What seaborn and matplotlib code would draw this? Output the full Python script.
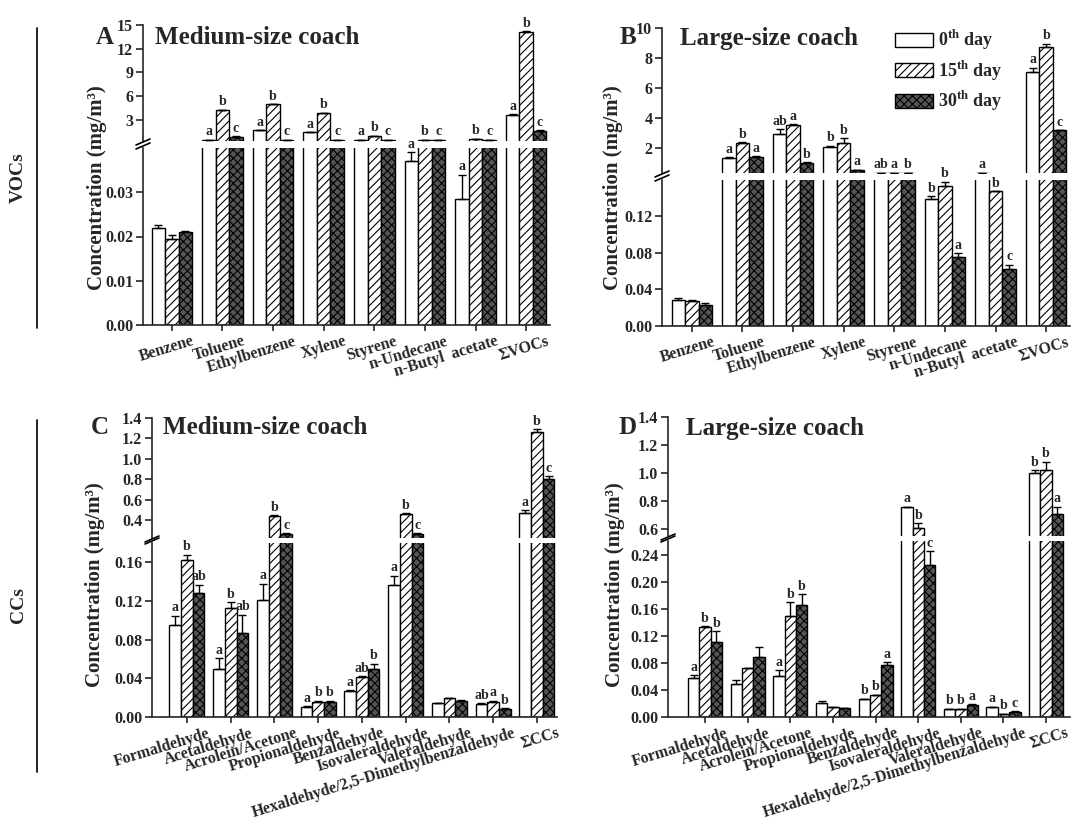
import numpy as np
import pandas as pd
import seaborn as sns
import matplotlib.pyplot as plt
from matplotlib.patches import Patch
from matplotlib.lines import Line2D
from matplotlib.transforms import ScaledTranslation
from matplotlib.ticker import FormatStrFormatter

# ---- data (mg/m3) ----
days = ['0th day', '15th day', '30th day']

voc_cats = ['Benzene', 'Toluene', 'Ethylbenzene', 'Xylene', 'Styrene',
            'n-Undecane', 'n-Butyl  acetate', 'ΣVOCs']
cc_cats = ['Formaldehyde', 'Acetaldehyde', 'Acrolein/Acetone', 'Propionaldehyde',
           'Benzaldehyde', 'Isovaleraldehyde', 'Valeraldehyde',
           'Hexaldehyde/2,5-Dimethylbenzaldehyde', 'ΣCCs']

# A: medium-size coach, VOCs
a_day0 = [0.022, 0.45, 1.65, 1.4, 0.45, 0.037, 0.0285, 3.6]
a_day15 = [0.0195, 4.2, 4.95, 3.85, 0.9, 0.45, 0.55, 14.1]
a_day30 = [0.021, 0.85, 0.45, 0.45, 0.45, 0.45, 0.45, 1.6]
a_err0 = [0.0006, 0.02, 0.05, 0.05, 0.0, 0.002, 0.0055, 0.1]
a_err15 = [0.0008, 0.05, 0.05, 0.05, 0.05, 0.0, 0.05, 0.1]
a_err30 = [0.0002, 0.03, 0.0, 0.0, 0.0, 0.0, 0.0, 0.05]
a_letters = ['', 'a b c', 'a b c', 'a b c', 'a b c', 'a b c', 'a b c', 'a b c']

# B: large-size coach, VOCs
b_day0 = [0.028, 1.33, 2.95, 2.05, 0.36, 0.139, 0.36, 7.05]
b_day15 = [0.027, 2.3, 3.5, 2.3, 0.36, 0.153, 0.148, 8.75]
b_day30 = [0.023, 1.42, 1.0, 0.5, 0.36, 0.076, 0.062, 3.2]
b_err0 = [0.003, 0.05, 0.3, 0.1, 0.0, 0.003, 0.0, 0.3]
b_err15 = [0.001, 0.1, 0.1, 0.35, 0.0, 0.005, 0.0, 0.2]
b_err30 = [0.002, 0.05, 0.05, 0.05, 0.0, 0.004, 0.005, 0.0]
b_letters = ['', 'a b a', 'ab a b', 'b b a', 'ab a b', 'b b a', 'a b c', 'a b c']

# C: medium-size coach, CCs
c_day0 = [0.095, 0.05, 0.121, 0.010, 0.027, 0.137, 0.0145, 0.013, 0.47]
c_day15 = [0.162, 0.113, 0.44, 0.016, 0.041, 0.46, 0.0195, 0.016, 1.26]
c_day30 = [0.128, 0.087, 0.26, 0.016, 0.05, 0.26, 0.017, 0.008, 0.80]
c_err0 = [0.010, 0.011, 0.017, 0.001, 0.001, 0.009, 0.0005, 0.001, 0.03]
c_err15 = [0.006, 0.006, 0.01, 0.001, 0.001, 0.01, 0.0005, 0.001, 0.03]
c_err30 = [0.009, 0.019, 0.01, 0.001, 0.005, 0.01, 0.0005, 0.001, 0.03]
c_letters = ['a b ab', 'a b ab', 'a b c', 'a b b', 'a ab b', 'a b c', '', 'ab a b', 'a b c']

# D: large-size coach, CCs
d_day0 = [0.057, 0.049, 0.060, 0.021, 0.026, 0.755, 0.012, 0.015, 1.00]
d_day15 = [0.133, 0.072, 0.149, 0.015, 0.032, 0.61, 0.012, 0.005, 1.02]
d_day30 = [0.111, 0.089, 0.166, 0.013, 0.077, 0.225, 0.018, 0.008, 0.71]
d_err0 = [0.005, 0.005, 0.009, 0.003, 0.001, 0.005, 0.0, 0.0, 0.02]
d_err15 = [0.001, 0.001, 0.021, 0.0, 0.001, 0.03, 0.0, 0.0, 0.06]
d_err30 = [0.016, 0.014, 0.015, 0.001, 0.004, 0.02, 0.001, 0.001, 0.05]
d_letters = ['a b b', '', 'a b b', '', 'b b a', 'a b c', 'b b a', 'a b c', 'b b a']

# ---- style ----
W, H = 1073, 824
sns.set_style('ticks')
plt.rcParams['font.family'] = ['Liberation Serif', 'DejaVu Serif']
plt.rcParams['font.weight'] = 'bold'
plt.rcParams['mathtext.fontset'] = 'custom'
plt.rcParams['mathtext.rm'] = 'Liberation Serif:bold'
plt.rcParams['mathtext.bf'] = 'Liberation Serif:bold'
plt.rcParams['hatch.linewidth'] = 0.8
plt.rcParams['axes.linewidth'] = 1.2

fills = ['white', 'white', '#555555']
hatches = ['', '////', 'xxxx']

fig = plt.figure(figsize=(W / 100, H / 100), dpi=100)


def px_axes(left, top, right, bottom):
    return fig.add_axes([left / W, 1 - bottom / H, (right - left) / W, (bottom - top) / H])


def draw_panel(cats, vals, errs, letters, box, ulim, llim, uticks, lticks, ufmt, lfmt, xlim):
    left, right, u_top, u_bot, l_top, l_bot = box
    ax_u = px_axes(left, u_top, right, u_bot)
    ax_l = px_axes(left, l_top, right, l_bot)

    df = pd.DataFrame({
        'cat': cats * 3,
        'day': [d for d in days for _ in cats],
        'val': vals[0] + vals[1] + vals[2],
    })

    for ax in (ax_u, ax_l):
        sns.barplot(data=df, x='cat', y='val', hue='day', order=cats, hue_order=days,
                    palette=fills, saturation=1, errorbar=None, edgecolor='black',
                    linewidth=1, legend=False, ax=ax)
        for j, cont in enumerate(ax.containers):
            for p in cont:
                p.set_hatch(hatches[j])
        for j in range(3):
            xs = np.arange(len(cats)) + (j - 1) * 0.8 / 3
            ax.errorbar(xs, vals[j], yerr=[np.zeros(len(cats)), errs[j]], fmt='none',
                        ecolor='black', elinewidth=1, capsize=3, capthick=1)
        ax.set_xlim(xlim)
        ax.set_xlabel('')
        ax.set_ylabel('')
        ax.tick_params(axis='y', direction='out', length=5, width=1.2, labelsize=11.5, pad=2)
        for lab in ax.get_yticklabels():
            lab.set_fontweight('bold')

    ax_u.set_ylim(ulim)
    ax_l.set_ylim(llim)
    ax_u.set_yticks(uticks)
    ax_l.set_yticks(lticks)
    ax_u.yaxis.set_major_formatter(FormatStrFormatter(ufmt))
    ax_l.yaxis.set_major_formatter(FormatStrFormatter(lfmt))

    sns.despine(ax=ax_u, bottom=True)
    sns.despine(ax=ax_l)
    ax_u.set_xticks([])

    ax_l.set_xticks(range(len(cats)))
    ax_l.set_xticklabels(cats, rotation=17, ha='right', rotation_mode='anchor',
                         fontsize=11.5, fontweight='bold')
    ax_l.tick_params(axis='x', direction='out', length=4, width=1.2, pad=2)
    shift = ScaledTranslation(0.2, 0, fig.dpi_scale_trans)
    for lab in ax_l.get_xticklabels():
        lab.set_transform(lab.get_transform() + shift)

    # significance letters
    for i, s in enumerate(letters):
        if not s:
            continue
        for j, let in enumerate(s.split()):
            x = i + (j - 1) * 0.8 / 3
            top = vals[j][i] + errs[j][i]
            if vals[j][i] > llim[1]:
                ax, y = ax_u, max(top, ulim[0])
            else:
                ax, y = ax_l, top
            ax.annotate(let, (x, y), xytext=(0, 1), textcoords='offset points',
                        ha='center', va='bottom', fontsize=10, fontweight='bold',
                        annotation_clip=False)

    # break marks on the y axis
    for yy in (u_bot + 4, l_top + 1):
        fig.add_artist(Line2D([(left - 7) / W, (left + 7) / W],
                              [1 - yy / H, 1 - (yy - 6) / H],
                              transform=fig.transFigure, color='black', lw=1.2))
    return ax_u, ax_l


# Panel A
draw_panel(voc_cats, [a_day0, a_day15, a_day30], [a_err0, a_err15, a_err30], a_letters,
           (143, 550, 25, 141, 148, 325), (0.3, 15), (0, 0.04),
           [3, 6, 9, 12, 15], [0, 0.01, 0.02, 0.03], '%d', '%.2f', (-0.57, 7.47))
# Panel B
ax_bu, _ = draw_panel(voc_cats, [b_day0, b_day15, b_day30], [b_err0, b_err15, b_err30], b_letters,
                      (662, 1070, 28, 173, 180, 326), (0.33, 10), (0, 0.16),
                      [2, 4, 6, 8, 10], [0, 0.04, 0.08, 0.12], '%d', '%.2f', (-0.59, 7.47))
# Panel C
draw_panel(cc_cats, [c_day0, c_day15, c_day30], [c_err0, c_err15, c_err30], c_letters,
           (152, 557, 418, 538, 543, 717), (0.225, 1.4), (0, 0.18),
           [0.4, 0.6, 0.8, 1.0, 1.2, 1.4], [0, 0.04, 0.08, 0.12, 0.16], '%.1f', '%.2f', (-0.8, 8.46))
# Panel D
draw_panel(cc_cats, [d_day0, d_day15, d_day30], [d_err0, d_err15, d_err30], d_letters,
           (668, 1070, 417, 536, 541, 717), (0.55, 1.4), (0, 0.26),
           [0.6, 0.8, 1.0, 1.2, 1.4], [0, 0.04, 0.08, 0.12, 0.16, 0.20, 0.24], '%.1f', '%.2f',
           (-0.87, 8.56))

# legend in panel B
handles = [Patch(facecolor=fills[j], edgecolor='black', hatch=hatches[j], linewidth=1)
           for j in range(3)]
labels = [r'0$^{\rm th}$ day', r'15$^{\rm th}$ day', r'30$^{\rm th}$ day']
ax_bu.legend(handles, labels, loc='upper left', bbox_to_anchor=(895 / W, 1 - 28 / H),
             bbox_transform=fig.transFigure, frameon=False, fontsize=13,
             handlelength=2.1, handleheight=0.8, handletextpad=0.3, labelspacing=0.35,
             borderpad=0, borderaxespad=0)

# panel letters and titles
for x_l, x_t, y, let, title in [(105, 155, 38, 'A', 'Medium-size coach'),
                                (628, 680, 38, 'B', 'Large-size coach'),
                                (100, 163, 427, 'C', 'Medium-size coach'),
                                (628, 686, 428, 'D', 'Large-size coach')]:
    fig.text(x_l / W, 1 - y / H, let, ha='center', va='center', fontsize=18, fontweight='bold')
    fig.text(x_t / W, 1 - y / H, title, ha='left', va='center', fontsize=18, fontweight='bold')

# y labels
for x, y in [(97, 188), (613, 188), (95, 585), (615, 585)]:
    fig.text(x / W, 1 - y / H, 'Concentration (mg/m³)', rotation=90, ha='center',
             va='center', fontsize=15, fontweight='bold')

# group labels on the far left
fig.add_artist(Line2D([37 / W, 37 / W], [1 - 28 / H, 1 - 328 / H],
                      transform=fig.transFigure, color='black', lw=1.2))
fig.add_artist(Line2D([37 / W, 37 / W], [1 - 420 / H, 1 - 772 / H],
                      transform=fig.transFigure, color='black', lw=1.2))
fig.text(18 / W, 1 - 178 / H, 'VOCs', rotation=90, ha='center', va='center',
         fontsize=14, fontweight='bold')
fig.text(18 / W, 1 - 605 / H, 'CCs', rotation=90, ha='center', va='center',
         fontsize=14, fontweight='bold')

fig.savefig('out.png', dpi=100)
